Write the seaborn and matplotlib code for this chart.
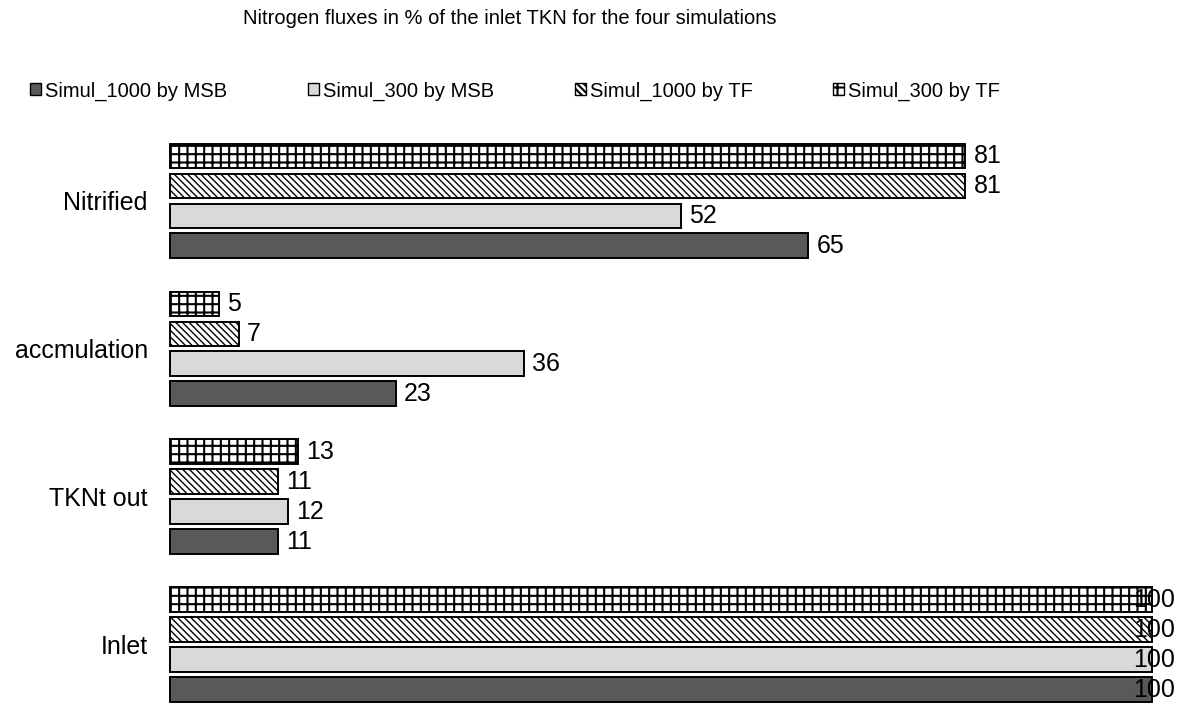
import matplotlib
matplotlib.use('Agg')
import matplotlib.pyplot as plt
import seaborn as sns
import pandas as pd
from matplotlib.patches import Patch

categories = ['Nitrified', 'accmulation', 'TKNt out', 'Inlet']
series = ['Simul_1000 by MSB', 'Simul_300 by MSB', 'Simul_1000 by TF', 'Simul_300 by TF']
simul_1000_msb = [65, 23, 11, 100]
simul_300_msb = [52, 36, 12, 100]
simul_1000_tf = [81, 7, 11, 100]
simul_300_tf = [81, 5, 13, 100]
title = 'Nitrogen fluxes in % of the inlet TKN for the four simulations'

rows = []
for s, vals in zip(series, [simul_1000_msb, simul_300_msb, simul_1000_tf, simul_300_tf]):
    for c, v in zip(categories, vals):
        rows.append({'category': c, 'series': s, 'value': v})
df = pd.DataFrame(rows)

sns.set_style('white')
plt.rcParams['font.family'] = ['Liberation Sans', 'DejaVu Sans']
plt.rcParams['text.color'] = 'black'
plt.rcParams['axes.labelcolor'] = 'black'
plt.rcParams['xtick.color'] = 'black'
plt.rcParams['ytick.color'] = 'black'
plt.rcParams['hatch.linewidth'] = 1.5
plt.rcParams['hatch.color'] = 'black'

W, H = 1186, 707
fig = plt.figure(figsize=(W / 100, H / 100), dpi=100)
ax = fig.add_axes([170 / W, 3 / H, 982 / W, 577 / H])

fills = {series[0]: '#595959', series[1]: '#d9d9d9', series[2]: 'white', series[3]: 'white'}
hatches = {series[0]: '', series[1]: '', series[2]: '\\' * 5, series[3]: '++'}
hatch_lw = {series[0]: 1.5, series[1]: 1.5, series[2]: 1.0, series[3]: 1.5}
hue_order = series[::-1]

sns.barplot(data=df, y='category', x='value', hue='series', order=categories,
            hue_order=hue_order, palette=fills, width=0.81, gap=0.17,
            errorbar=None, orient='h', edgecolor='black', linewidth=1.4,
            legend=False, saturation=1, ax=ax)

for cont, s in zip(ax.containers, hue_order):
    for bar in cont:
        bar.set_hatch(hatches[s])
        if hasattr(bar, 'set_hatch_linewidth'):
            bar.set_hatch_linewidth(hatch_lw[s])
        bar.set_clip_on(False)
        v = bar.get_width()
        y = bar.get_y() + bar.get_height() / 2
        off = 8 if v < 100 else -19
        ax.annotate(f'{v:g}', xy=(v, y), xytext=(off, 0), textcoords='offset pixels',
                    ha='left', va='center', fontsize=18, color='black',
                    annotation_clip=False)

ax.set_xlim(0, 100)
ax.set_ylim(3.4, -0.5)
for sp in ax.spines.values():
    sp.set_visible(False)
ax.set_xticks([])
ax.set_xlabel('')
ax.set_ylabel('')
ax.tick_params(axis='y', length=0, pad=16, labelsize=18, labelcolor='black')

handles = [Patch(facecolor=fills[s], edgecolor='black', hatch=hatches[s], linewidth=1.0, label=s)
           for s in series]
fig.legend(handles=handles, loc='center left', bbox_to_anchor=(30 / W, 1 - 91 / H),
           ncol=4, frameon=False, fontsize=14.5, handlelength=0.55, handleheight=0.55,
           handletextpad=0.2, columnspacing=4.0, borderpad=0, borderaxespad=0)

fig.text(510 / W, 1 - 18 / H, title, ha='center', va='center', fontsize=14.5,
         color='black')

fig.savefig('out.png', dpi=100)
